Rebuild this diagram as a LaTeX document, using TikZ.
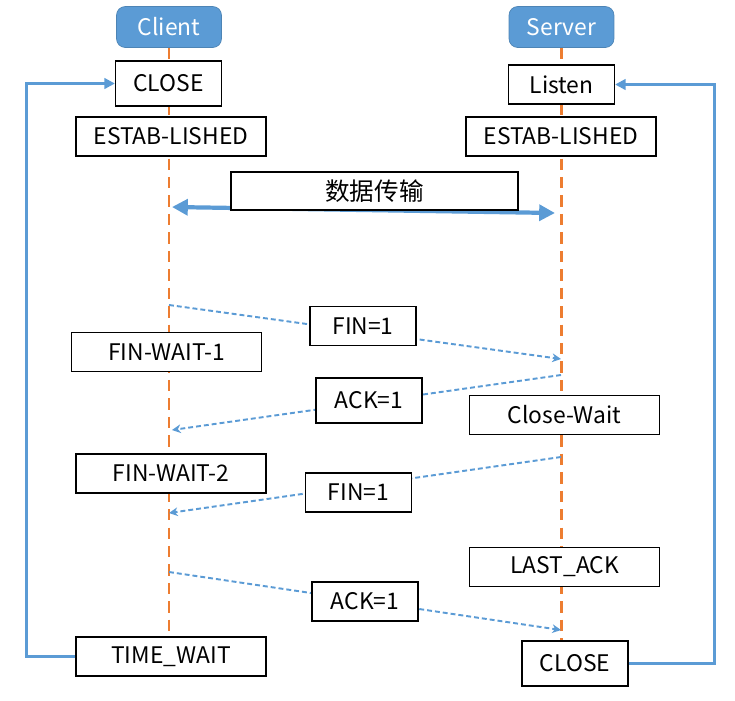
\documentclass[tikz,border=0pt]{standalone}
\usepackage{fontspec}
\setmainfont{Noto Sans CJK SC}
\usetikzlibrary{arrows.meta,backgrounds}
\definecolor{mblue}{HTML}{5B9BD5}
\definecolor{morange}{HTML}{ED7D31}

\begin{document}
\begin{tikzpicture}[x=0.02cm, y=-0.02cm,
  party/.style={draw=mblue!85!black, fill=mblue, rounded corners=5pt, text=white, minimum width=2.1cm, minimum height=0.82cm, inner sep=0pt, font=\fontsize{13}{15}\selectfont},
  state/.style={draw, fill=white, line width=0.7pt, minimum width=2.12cm, minimum height=0.78cm, inner sep=0pt, font=\fontsize{13}{15}\selectfont},
  wide/.style={minimum width=3.8cm},
  life/.style={morange, line width=1.7pt, dash pattern=on 6.5pt off 4pt},
  msg/.style={mblue, line width=1.1pt, dash pattern=on 2.8pt off 1.7pt, -{Stealth[length=5pt,width=5pt]}},
  bulk/.style={mblue, line width=2.4pt, {Triangle[length=9pt,width=9pt]}-{Triangle[length=9pt,width=9pt]}},
  loop/.style={mblue, line width=1.7pt, -{Triangle[length=6pt,width=6pt]}},
]
  \useasboundingbox (0,0) rectangle (735,701);

  % Parties
  \node[party] (client) at (169,27) {Client};
  \node[party] (server) at (561.5,27) {Server};

  % Client states
  \node[state, minimum height=0.9cm] (cclose) at (168.5,83.5) {CLOSE};
  \node[state, wide] (cest) at (171,136.5) {ESTAB-LISHED};
  \node[state, wide] (fw1) at (166.5,352) {FIN-WAIT-1};
  \node[state, wide] (fw2) at (171,473.5) {FIN-WAIT-2};
  \node[state, wide] (tw) at (171,656.5) {TIME\_WAIT};

  % Server states
  \node[state] (listen) at (561.5,84.5) {Listen};
  \node[state, wide] (sest) at (561,136.5) {ESTAB-LISHED};
  \node[state, wide] (cwait) at (564.5,415) {Close-Wait};
  \node[state, wide] (lastack) at (564.5,567) {LAST\_ACK};
  \node[state, minimum height=0.9cm] (sclose) at (575,663.5) {CLOSE};

  % Messages
  \node[state, minimum width=5.74cm, minimum height=0.76cm, font=\fontsize{14}{16}\selectfont] (data) at (374.5,191) {数据传输};
  \node[state] (fin1) at (363,326) {FIN=1};
  \node[state, minimum height=0.9cm] (ack1) at (369,400.5) {ACK=1};
  \node[state] (fin2) at (358.5,492.5) {FIN=1};
  \node[state] (ack2) at (365,601.5) {ACK=1};

  % points on the lifelines
  \coordinate (dl) at (172,207);
  \coordinate (dr) at (555,213);
  \coordinate (c1) at (169,305);
  \coordinate (s1) at (561,359);
  \coordinate (s2) at (561,375);
  \coordinate (c2) at (172,430);
  \coordinate (s3) at (561,457);
  \coordinate (c3) at (169,513);
  \coordinate (c4) at (169,572);
  \coordinate (s4) at (561,630);

  \begin{scope}[on background layer]
    \draw[life] (client.south) -- (client.south |- tw.north);
    \draw[life] (server.south) -- (server.south |- sclose.north);
    \draw[bulk] (dl) -- (dr);
    \draw[msg] (c1) -- (s1);
    \draw[msg] (s2) -- (c2);
    \draw[msg] (s3) -- (c3);
    \draw[msg] (c4) -- (s4);
  \end{scope}

  % back to closed / listen
  \draw[loop] (tw.west) -- ++(-49,0) |- (cclose.west);
  \draw[loop] (sclose.east) -- ++(86,0) |- (listen.east);
\end{tikzpicture}
\end{document}
